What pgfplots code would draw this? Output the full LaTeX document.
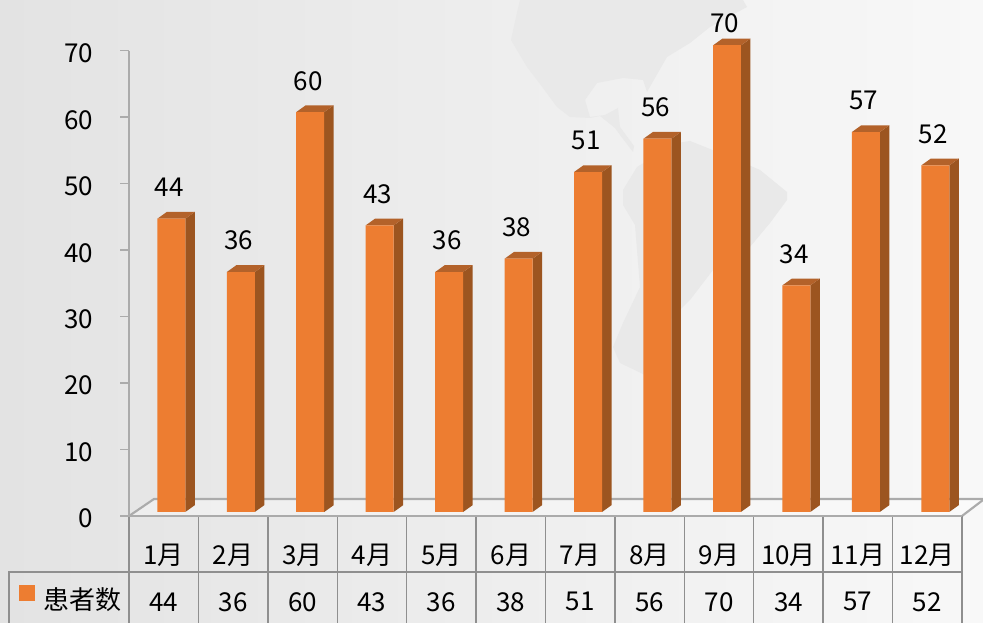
\documentclass[border=0pt]{standalone}
\usepackage{fontspec}
\setmainfont{Noto Sans CJK SC}
\usepackage{pgfplots}
\pgfplotsset{compat=1.18}
\usepackage{pgfplotstable}
\definecolor{barfront}{HTML}{ED7D31}
\definecolor{barside}{HTML}{9C5520}
\definecolor{bartop}{HTML}{B3622A}
\definecolor{rule}{HTML}{8F8F8F}
\definecolor{axisrule}{HTML}{ABABAB}
\definecolor{mapc}{HTML}{E9E9E9}
\definecolor{bgl}{HTML}{E3E3E3}
\definecolor{bgm}{HTML}{F0F0F0}
\definecolor{bgr}{HTML}{F8F8F8}
\pgfplotstableread{
idx name value
0 1月 44
1 2月 36
2 3月 60
3 4月 43
4 5月 36
5 6月 38
6 7月 51
7 8月 56
8 9月 70
9 10月 34
10 11月 57
11 12月 52
}\patients
\newcommand{\chartfont}{\fontsize{19.5pt}{23pt}\selectfont}
\begin{document}
\begin{tikzpicture}
% picture frame: 1 px = 0.75pt
\path[use as bounding box] (0,0) rectangle (737.25pt,467.25pt);
\shade[shading=axis, shading angle=90, left color=bgl, middle color=bgm, right color=bgr] (0,0) rectangle (737.25pt,467.25pt);
\begin{scope}[x=0.75pt,y=-0.75pt,yshift=467.25pt]
% faint world map
\fill[mapc] (520,0)--(516,17)--(511,40)--(527,67)--(537,80)--(557,107)--(570,117)--(590,118)--(600,116)--(615,128)--(620,135)--(633,152)--(634,146)--(620,127)--(618,108)--(605,115)--(590,117)--(585,100)--(597,83)--(623,78)--(643,80)--(647,92)--(667,57)--(690,43)--(710,27)--(747,7)--(743,0)--cycle;
\fill[mapc] (623,190)--(637,167)--(677,143)--(690,141)--(725,155)--(760,170)--(787,192)--(787,200)--(770,223)--(750,247)--(713,270)--(690,300)--(670,320)--(645,375)--(620,363)--(613,347)--(623,323)--(640,287)--(635,225)--(623,205)--cycle;
% floor
\fill[white,opacity=0.35] (129,516)--(154,499)--(983,499)--(983,500)--(962,516)--cycle;
\draw[axisrule,line width=1.6pt] (129,516)--(154,499)--(983,499);
\draw[axisrule,line width=1.6pt] (962,516)--(983,500);
% table rules
\draw[rule,line width=1.1pt] (9,623)--(9,572)--(962,572);
\foreach \k in {0,...,12} {\draw[rule,line width=1.1pt] (129+69.417*\k,516)--(129+69.417*\k,623);}
% legend key
\fill[barfront] (19,585) rectangle (35,601);
\node[anchor=west,inner sep=0pt,font=\chartfont,text=black] at (43,600) {患者数};
\end{scope}
% frame axis: value scale and the table's tick labels
\begin{axis}[
  at={(96.75pt,80.25pt)}, anchor=south west, scale only axis,
  width=624.75pt, height=349pt,
  xmin=-0.5, xmax=11.5, ymin=0, ymax=70,
  axis x line=bottom, axis y line=left,
  axis line style={axisrule,line width=1.8pt,-},
  ytick={0,10,20,30,40,50,60,70},
  tick style={axisrule,line width=1.1pt},
  major tick length=6.75pt,
  ytick align=outside,
  yticklabel style={font=\chartfont,text=black,/pgf/number format/assume math mode=true,inner xsep=0pt,xshift=-20pt,yshift=-2pt},
  xtick={0,...,11},
  xticklabels={1月,2月,3月,4月,5月,6月,7月,8月,9月,10月,11月,12月},
  x tick style={draw=none},
  major x tick style={draw=none},
  xticklabel style={font=\chartfont,text=black,anchor=center,yshift=-26pt},
  extra x ticks={0,1,2,3,4,5,6,7,8,9,10,11},
  extra x tick labels={44,36,60,43,36,38,51,56,70,34,57,52},
  extra x tick style={tick style={draw=none},xticklabel style={yshift=-35pt}},
]
\end{axis}
% bars axis: whole picture, bar floor at value 0
\begin{axis}[
  at={(0pt,0pt)}, anchor=south west, scale only axis,
  width=737.25pt, height=467.25pt,
  xmin=-2.4665, xmax=11.6875, ymin=-16.654, ymax=76.82,
  axis lines=none, clip=false,
]
\pgfplotsforeachungrouped \i/\v in {0/44,1/36,2/60,3/43,4/36,5/38,6/51,7/56,8/70,9/34,10/57,11/52} {
  \pgfmathsetmacro{\xa}{\i+0.2016}
  \pgfmathsetmacro{\xb}{\i+0.2016+0.1368}
  \pgfmathsetmacro{\xc}{\i-0.2016}
  \pgfmathsetmacro{\xd}{\i-0.2016+0.1368}
  \pgfmathsetmacro{\vb}{\v+1.02}
  \edef\temp{\noexpand\addplot[fill=barside,draw=none,no marks,forget plot] coordinates {(\xa,0) (\xb,1.02) (\xb,\vb) (\xa,\v)} --cycle;
  \noexpand\addplot[fill=bartop,draw=none,no marks,forget plot] coordinates {(\xc,\v) (\xa,\v) (\xb,\vb) (\xd,\vb)} --cycle;}
  \temp
}
\addplot[ybar,bar shift=0pt,bar width=21pt,fill=barfront,draw=none,
  skip coords between index={8}{9},
  nodes near coords={\pgfmathprintnumber[assume math mode=true]{\pgfplotspointmeta}},
  nodes near coords style={font=\chartfont,text=black,anchor=center,yshift=23.5pt,xshift=-1.5pt},
] table[x=idx,y=value] {\patients};
\addplot[ybar,bar shift=0pt,bar width=21pt,fill=barfront,draw=none,
  skip coords between index={0}{8}, skip coords between index={9}{12},
  nodes near coords={\pgfmathprintnumber[assume math mode=true]{\pgfplotspointmeta}},
  nodes near coords style={font=\chartfont,text=black,anchor=center,yshift=16.5pt,xshift=-1.5pt},
] table[x=idx,y=value] {\patients};
\end{axis}
\end{tikzpicture}
\end{document}
